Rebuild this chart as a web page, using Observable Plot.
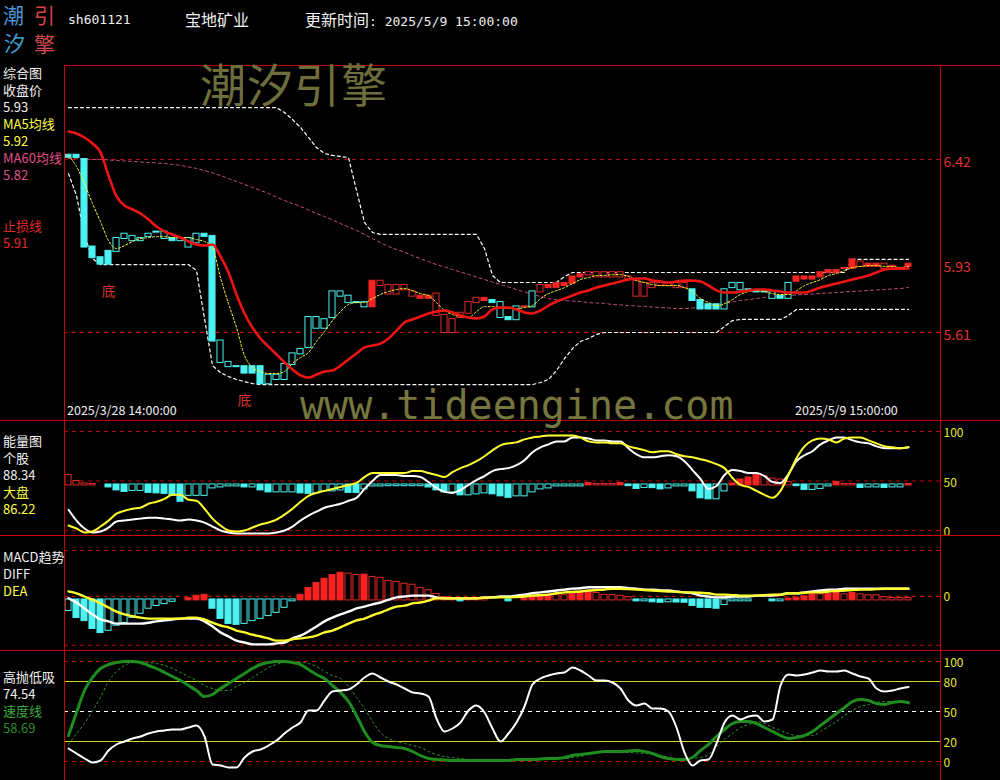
<!DOCTYPE html>
<html><head><meta charset="utf-8">
<script src="https://cdn.jsdelivr.net/npm/d3@7"></script>
<script src="https://cdn.jsdelivr.net/npm/@observablehq/plot@0.6"></script>
<style>
html,body{margin:0;background:#000;}
#root{position:relative;width:1000px;height:780px;background:#000;overflow:hidden;font-family:"Noto Sans CJK SC",sans-serif;}
.t{position:absolute;white-space:nowrap;}
.hl{position:absolute;height:1px;background:#c80000;}
.vl{position:absolute;width:1px;background:#c80000;}
</style></head><body><div id="root"></div>
<script>
// ---------- data ----------
const stockCode = "sh601121";
const stockName = "宝地矿业";
const updateTime = "2025/5/9 15:00:00";
const firstTime = "2025/3/28 14:00:00";
const lastTime = "2025/5/9 15:00:00";

const open = [6.44,6.44,6.42,6.01,5.96,5.99,5.99,6.05,6.04,6.04,
 6.06,6.08,6.05,6.05,6.04,6.01,6.03,6.07,6.06,5.47,
 5.45,5.45,5.45,5.45,5.45,5.37,5.39,5.39,5.46,5.51,
 5.54,5.63,5.63,5.68,5.78,5.75,5.75,5.73,5.73,5.85,
 5.83,5.83,5.83,5.80,5.77,5.77,5.79,5.69,5.67,5.70,
 5.75,5.77,5.76,5.76,5.68,5.68,5.67,5.73,5.73,5.83,
 5.82,5.82,5.83,5.84,5.87,5.89,5.89,5.89,5.89,5.89,
 5.87,5.85,5.84,5.84,5.84,5.84,5.84,5.84,5.81,5.76,
 5.74,5.74,5.72,5.82,5.81,5.81,5.80,5.80,5.77,5.78,
 5.77,5.85,5.86,5.86,5.87,5.89,5.89,5.91,5.91,5.94,
 5.92,5.92,5.93,5.92,5.91,5.92];
const close = [6.43,6.43,6.01,5.96,5.93,5.93,6.05,6.07,6.06,6.05,
 6.07,6.08,6.08,6.04,6.05,6.05,6.07,6.06,5.57,5.57,
 5.47,5.45,5.42,5.42,5.37,5.41,5.41,5.46,5.51,5.53,
 5.68,5.68,5.67,5.80,5.80,5.78,5.75,5.75,5.85,5.83,
 5.79,5.79,5.81,5.78,5.78,5.78,5.69,5.61,5.61,5.68,
 5.70,5.75,5.77,5.75,5.75,5.67,5.73,5.73,5.80,5.80,
 5.83,5.84,5.84,5.87,5.88,5.88,5.87,5.87,5.87,5.87,
 5.86,5.78,5.78,5.82,5.83,5.83,5.82,5.82,5.76,5.72,
 5.72,5.72,5.81,5.84,5.84,5.81,5.80,5.80,5.80,5.77,
 5.84,5.87,5.87,5.87,5.89,5.90,5.90,5.91,5.95,5.92,
 5.93,5.93,5.91,5.92,5.91,5.93];
// trend state: 1 = 多 (red), -1 = 空 (cyan)
const trend = [-1,-1,-1,-1,-1,-1,-1,-1,-1,-1,
 -1,-1,-1,-1,-1,-1,-1,-1,-1,-1,
 -1,-1,-1,-1,-1,-1,-1,-1,-1,-1,
 -1,-1,-1,-1,-1,-1,-1,-1,1,1,
 1,1,1,1,1,1,1,1,1,1,
 1,1,1,-1,-1,-1,-1,1,-1,1,
 1,1,1,1,1,1,1,1,1,1,
 1,1,1,1,1,1,1,1,-1,-1,
 -1,-1,-1,-1,-1,-1,-1,-1,-1,-1,
 -1,1,1,1,1,1,1,1,1,1,
 1,1,1,1,1,1];
const stopLine = [6.551,6.542,6.523,6.495,6.453,6.345,6.247,6.205,6.186,6.167,
 6.139,6.106,6.083,6.069,6.055,6.036,6.022,6.017,6.022,5.966,
 5.891,5.788,5.699,5.633,5.582,5.544,5.507,5.470,5.437,5.409,
 5.399,5.413,5.427,5.432,5.455,5.484,5.512,5.540,5.549,5.558,
 5.582,5.619,5.657,5.671,5.685,5.699,5.708,5.713,5.704,5.690,
 5.680,5.676,5.685,5.718,5.727,5.727,5.718,5.704,5.699,5.713,
 5.736,5.755,5.769,5.783,5.797,5.807,5.821,5.830,5.839,5.849,
 5.858,5.863,5.863,5.853,5.849,5.844,5.849,5.853,5.853,5.849,
 5.830,5.807,5.797,5.797,5.802,5.807,5.811,5.811,5.807,5.802,
 5.797,5.797,5.797,5.807,5.821,5.830,5.839,5.849,5.858,5.867,
 5.877,5.891,5.905,5.909,5.909,5.910];
const ma5 = [6.438,6.387,6.307,6.214,6.129,6.040,6.003,6.017,6.036,6.050,
 6.054,6.059,6.059,6.054,6.054,6.054,6.045,6.036,6.008,5.867,
 5.745,5.633,5.502,5.446,5.427,5.418,5.418,5.427,5.465,5.493,
 5.516,5.568,5.614,5.666,5.708,5.741,5.750,5.750,5.769,5.788,
 5.802,5.811,5.816,5.806,5.792,5.783,5.750,5.713,5.694,5.685,
 5.680,5.708,5.731,5.731,5.727,5.722,5.722,5.727,5.736,5.769,
 5.792,5.806,5.820,5.839,5.858,5.867,5.877,5.877,5.881,5.881,
 5.872,5.853,5.844,5.834,5.830,5.830,5.830,5.820,5.802,5.769,
 5.750,5.736,5.745,5.764,5.788,5.802,5.806,5.802,5.792,5.788,
 5.788,5.806,5.830,5.844,5.858,5.877,5.886,5.900,5.914,5.919,
 5.923,5.923,5.919,5.919,5.914,5.920];
const ma60 = [6.425,6.425,6.422,6.420,6.420,6.418,6.415,6.413,6.411,6.408,
 6.406,6.404,6.401,6.397,6.392,6.385,6.378,6.368,6.357,6.345,
 6.331,6.317,6.303,6.289,6.275,6.261,6.244,6.228,6.214,6.200,
 6.184,6.167,6.153,6.137,6.120,6.104,6.088,6.069,6.050,6.031,
 6.013,5.999,5.985,5.970,5.956,5.942,5.928,5.917,5.905,5.893,
 5.882,5.870,5.858,5.846,5.835,5.823,5.811,5.800,5.788,5.779,
 5.769,5.764,5.760,5.757,5.755,5.750,5.748,5.746,5.741,5.739,
 5.736,5.734,5.732,5.729,5.727,5.725,5.722,5.722,5.725,5.727,
 5.732,5.739,5.746,5.753,5.760,5.764,5.769,5.774,5.779,5.781,
 5.783,5.786,5.788,5.790,5.793,5.795,5.797,5.800,5.802,5.804,
 5.807,5.809,5.811,5.814,5.816,5.821];
const upperBand = [6.663,6.663,6.663,6.663,6.663,6.663,6.663,6.663,6.663,6.663,
 6.663,6.663,6.663,6.663,6.663,6.663,6.663,6.663,6.663,6.663,
 6.663,6.663,6.663,6.663,6.663,6.663,6.663,6.640,6.607,6.570,
 6.523,6.476,6.448,6.439,6.434,6.429,6.275,6.125,6.078,6.069,
 6.069,6.069,6.069,6.069,6.069,6.069,6.069,6.069,6.069,6.069,
 6.069,6.069,6.003,5.877,5.844,5.844,5.844,5.844,5.844,5.844,
 5.844,5.844,5.872,5.891,5.891,5.891,5.891,5.891,5.891,5.891,
 5.891,5.891,5.891,5.891,5.891,5.891,5.891,5.891,5.891,5.891,
 5.891,5.891,5.891,5.891,5.891,5.891,5.891,5.891,5.891,5.891,
 5.891,5.891,5.891,5.891,5.891,5.891,5.891,5.891,5.952,5.952,
 5.952,5.952,5.952,5.952,5.952,5.952];
const lowerBand = [6.354,6.251,6.064,5.956,5.928,5.928,5.928,5.928,5.928,5.928,
 5.928,5.928,5.928,5.928,5.928,5.928,5.900,5.676,5.455,5.422,
 5.404,5.390,5.380,5.371,5.366,5.366,5.366,5.366,5.366,5.366,
 5.366,5.366,5.366,5.366,5.366,5.366,5.366,5.366,5.366,5.366,
 5.366,5.366,5.366,5.366,5.366,5.366,5.366,5.366,5.366,5.366,
 5.366,5.366,5.366,5.366,5.366,5.366,5.366,5.366,5.366,5.376,
 5.390,5.432,5.488,5.535,5.568,5.582,5.601,5.610,5.610,5.610,
 5.610,5.610,5.610,5.610,5.610,5.610,5.610,5.610,5.610,5.610,
 5.610,5.610,5.638,5.666,5.671,5.671,5.671,5.671,5.671,5.671,
 5.690,5.718,5.718,5.718,5.718,5.718,5.718,5.718,5.718,5.718,
 5.718,5.718,5.718,5.718,5.718,5.718];
const priceTicks = [6.42, 5.93, 5.61];
const priceGrid = [6.42, 5.61];
const bottomSignals = [5, 22]; // 底

// 能量图
const energyStock = [21,10,2,-2,-1,3,9,10,11,12,
 13,13,12,11,10,11,10,8,4,0,
 -2,-3,-3,-3,-3,-3,-2,0,4,10,
 15,19,23,25,27,30,33,42,50,56,
 56,56,55,55,54,49,43,39,38,41,
 46,51,55,60,62,63,66,71,79,84,
 87,90,90,94,94,93,91,91,90,90,
 83,77,74,74,75,76,75,70,61,52,
 42,45,56,61,60,58,58,55,49,48,
 57,70,76,80,87,91,94,94,91,89,
 88,85,83,83,83,84];
const energyMarket = [5,2,-2,-1,4,10,17,20,22,23,
 27,29,32,36,36,31,30,22,12,5,
 0,-1,0,3,6,8,11,16,22,29,
 35,38,40,42,44,46,48,54,58,58,
 58,58,58,60,60,58,56,54,59,63,
 66,70,75,81,86,88,89,92,94,95,
 96,96,96,96,94,90,89,89,88,88,
 85,83,81,79,80,80,77,75,74,72,
 70,67,63,53,46,44,40,36,33,40,
 56,73,85,91,93,92,89,93,94,94,
 91,88,85,84,83,84];
const energyBase = 46;
const energyHist = [9.6,3.5,1,0.5,0,-2,-5,-6.5,-5.5,-5.5,
 -7.5,-8,-8.5,-10.5,-16.5,-10.5,-10.5,-10.5,-3,-2,
 -1,-1,-2,-2,-5,-7,-7,-7,-7,-8,
 -8.5,-8,-6,-6,-5,-7.5,-7.7,-4,-1,-1,
 -0.7,-0.7,-0.7,-0.7,-0.7,-2,-5,-7,-7,-10,
 -10,-9,-8,-9,-11,-12.5,-11,-11,-7,-4,
 -3,-1,-1,-1,-1,1.5,0.5,0.5,0.5,1.5,
 -0.7,-3.5,-2.5,-2.7,-4,-3,-1,-1,-6,-13,
 -14,-14,-6,1,5,7,9.5,8.5,6,5,
 2.5,-0.7,-4.5,-4.5,-3.5,-1,2.5,0.5,0.5,-2.5,
 -2,-2,-2.5,-2,-2,0.5];
const energyTicks = [100, 50, 0];
const energyStockLast = "88.34";
const energyMarketLast = "86.22";

// MACD
const diff = [-0.004,-0.013,-0.026,-0.039,-0.050,-0.054,-0.059,-0.059,-0.059,-0.059,
 -0.057,-0.054,-0.052,-0.050,-0.048,-0.048,-0.048,-0.054,-0.065,-0.078,
 -0.087,-0.096,-0.100,-0.104,-0.104,-0.104,-0.102,-0.100,-0.091,-0.085,
 -0.076,-0.065,-0.054,-0.046,-0.039,-0.033,-0.026,-0.022,-0.017,-0.013,
 -0.007,-0.002,0,0.002,0.002,0.002,-0.002,-0.004,-0.004,-0.004,
 -0.004,-0.004,-0.002,-0.002,0,0,0.002,0.004,0.007,0.009,
 0.011,0.013,0.015,0.017,0.018,0.020,0.020,0.020,0.020,0.020,
 0.018,0.017,0.015,0.015,0.013,0.013,0.011,0.009,0.007,0.002,
 0,-0.002,-0.002,0,0,0,0.002,0.002,0.002,0.004,
 0.007,0.007,0.009,0.011,0.013,0.015,0.015,0.017,0.017,0.017,
 0.017,0.017,0.017,0.017,0.017,0.017];
const dea = [0.011,0.007,0,-0.007,-0.015,-0.024,-0.033,-0.039,-0.043,-0.046,
 -0.048,-0.048,-0.048,-0.048,-0.048,-0.046,-0.046,-0.050,-0.057,-0.063,
 -0.067,-0.074,-0.078,-0.083,-0.087,-0.091,-0.096,-0.096,-0.093,-0.091,
 -0.089,-0.085,-0.078,-0.074,-0.067,-0.059,-0.052,-0.048,-0.041,-0.035,
 -0.028,-0.022,-0.020,-0.015,-0.013,-0.009,-0.004,-0.004,-0.004,-0.004,
 -0.004,-0.004,-0.003,-0.002,-0.002,-0.002,-0.001,0,0.002,0.003,
 0.004,0.007,0.009,0.010,0.011,0.013,0.014,0.015,0.017,0.017,
 0.016,0.015,0.014,0.013,0.012,0.011,0.010,0.009,0.009,0.008,
 0.007,0.004,0.004,0.003,0.002,0.002,0.002,0.003,0.004,0.004,
 0.007,0.007,0.008,0.009,0.009,0.011,0.012,0.013,0.014,0.015,
 0.015,0.016,0.017,0.017,0.017,0.017];
const macdBase = -0.0075;
const macdHist = [-0.023,-0.038,-0.045,-0.062,-0.071,-0.066,-0.055,-0.049,-0.038,-0.029,
 -0.018,-0.012,-0.008,-0.003,0,0.003,0.008,0.010,-0.018,-0.040,
 -0.051,-0.053,-0.051,-0.045,-0.040,-0.034,-0.027,-0.016,-0.002,0.010,
 0.025,0.036,0.045,0.053,0.058,0.056,0.053,0.054,0.049,0.047,
 0.040,0.038,0.034,0.032,0.025,0.020,0.012,0.005,0.003,-0.002,
 0.002,0.002,0.002,0,0,-0.002,0,0.002,0.005,0.008,
 0.010,0.0095,0.009,0.012,0.014,0.016,0.014,0.010,0.0095,0.008,
 0.005,-0.002,-0.002,-0.004,-0.005,-0.004,-0.0045,-0.005,-0.012,-0.016,
 -0.0165,-0.018,-0.010,-0.002,-0.002,-0.002,0,0,-0.002,-0.002,
 0.002,0.004,0.007,0.011,0.011,0.012,0.014,0.011,0.014,0.011,
 0.009,0.009,0.005,0.003,0.003,0.003];
const macdGrid = [0.1, 0, -0.106];
const macdTicks = [0];

// 高抛低吸
const swingLine = [13,8,3,-1,1,11,17,20,23,25,
 28,30,31,32,32,34,36,25,-3,-4,
 -6,-6,4,10,12,16,21,28,34,39,
 51,51,61,70,71,72,77,84,88,84,
 80,77,73,69,68,65,43,30,33,39,
 51,56,49,33,20,28,39,55,77,83,
 86,88,89,94,91,86,81,81,79,73,
 61,56,58,53,53,50,34,9,-4,1,
 2,18,39,46,42,45,46,40,42,76,
 87,86,87,89,91,90,90,91,88,85,
 83,73,70,71,73,74.54];
const speedLine = [26,49,71,84,93,97,99,100,100,99,
 96,93,89,85,81,76,71,65,67,73,
 78,83,88,93,97,99,100,100,99,97,
 92,87,83,76,69,60,46,30,19,16,
 15,14,13,10,6,3,2,1.5,1,1,
 1,1,1,1,1,1,2,2,2,2.5,
 3,3,4,6,7,8,9,10,10,10,
 10.5,11,10,8,5,3,2,2,4,11,
 17,25,32,38,40,40,38,34,30,26,
 23,24,26,30,36,42,48,54,60,62,
 61,58,57,59,60,58.69];
const speedSignal = [17,28,38,51,64,80,90,96,99,100,
 99,98,96,93,89,85,81,76,73,71,
 71,75,79,84,89,94,97,99,99,99,
 98,95,90,86,83,75,64,53,40,29,
 23,20,18,16,14,10,7,5,4,3,
 2,1,1,1,1,1,1,1,1,2,
 2,3,3,4,5,7,9,9,9,9,
 9,8.5,8,7,5,4,3,3,3,4,
 7,15,22,28,34,37,40,38,34,31,
 28,26,26,26,30,35,40,46,51,55,
 57,59,60,60,60,60];
const swingTicks = [100, 80, 50, 20, 0];

// ---------- rendering ----------
const root = document.getElementById("root");
const CYAN = "#4ef2f2", RED = "#ff2020", REDLINE = "#e02a2a", YEL = "#ffff30";
const idx = d3.range(open.length);
const X = {domain: [-0.5, 109], axis: null};

function mk(top, height, yDomain, marks, fontSize) {
  const svg = Plot.plot({
    width: 1000, height, marginLeft: 64, marginRight: 60, marginTop: 0, marginBottom: 0,
    x: X, y: {domain: yDomain, axis: null},
    style: {background: "transparent", color: "#fff", fontFamily: "'Noto Sans CJK SC', sans-serif", fontSize: (fontSize || 13) + "px", overflow: "visible"},
    marks
  });
  svg.style.position = "absolute"; svg.style.left = "0px"; svg.style.top = top + "px";
  root.appendChild(svg);
}
const ser = (arr) => arr.map((v, i) => ({i, v}));
const grow = (h, i) => i > 0 && (Math.sign(h[i]) !== Math.sign(h[i - 1]) || Math.abs(h[i]) > Math.abs(h[i - 1]));
function histMarks(h, base) {
  const data = h.map((v, i) => ({i, v, g: grow(h, i)})).filter(d => d.v !== 0);
  return Plot.rect(data, {
    x1: d => d.i - 0.38, x2: d => d.i + 0.38, y1: () => base, y2: d => base + d.v,
    fill: d => d.g ? (d.v > 0 ? RED : CYAN) : "#000",
    stroke: d => d.v > 0 ? REDLINE : CYAN, strokeWidth: 1, insetTop: -0.5, insetBottom: -0.5
  });
}
const gridDash = {stroke: "#c00000", strokeWidth: 1, strokeDasharray: "4,4"};
const intFmt = d => String(d);

// main panel
const candles = idx.map(i => ({i, o: open[i], c: close[i], t: trend[i],
  f: open[i] === close[i] || (trend[i] > 0 ? close[i] > open[i] : close[i] < open[i])}));
mk(65, 355, [5.198, 6.86], [
  Plot.ruleY(priceGrid, gridDash),
  Plot.line(ser(upperBand), {x: "i", y: "v", stroke: "#fff", strokeWidth: 1.2, strokeDasharray: "3,3"}),
  Plot.line(ser(lowerBand), {x: "i", y: "v", stroke: "#fff", strokeWidth: 1.2, strokeDasharray: "3,3"}),
  Plot.line(ser(ma60), {x: "i", y: "v", stroke: "#c8507e", strokeWidth: 1, strokeDasharray: "3,3", curve: "monotone-x"}),
  Plot.rect(candles, {x1: d => d.i - 0.38, x2: d => d.i + 0.38, y1: "o", y2: "c",
    fill: d => d.f ? (d.t > 0 ? RED : CYAN) : "#000", stroke: d => d.t > 0 ? REDLINE : CYAN,
    strokeWidth: 1, insetTop: -0.5, insetBottom: -0.5}),
  Plot.line(ser(ma5), {x: "i", y: "v", stroke: YEL, strokeWidth: 1, strokeDasharray: "2,2", curve: "monotone-x"}),
  Plot.line(ser(stopLine), {x: "i", y: "v", stroke: "#f01414", strokeWidth: 2.6, curve: "monotone-x"}),
  Plot.text(bottomSignals, {x: d => d, y: d => Math.min(open[d], close[d]), dy: 27, text: () => "底", fill: "#d83030", fontSize: 14}),
  Plot.axisY(priceTicks, {anchor: "right", tickSize: 0, tickPadding: 3, tickFormat: d3.format(".2f"), color: "#e03030", fontSize: 14, dy: 3, label: null})
], 14);

// energy panel
mk(420, 115, [-5.05, 111.1], [
  Plot.ruleY(energyTicks, gridDash),
  histMarks(energyHist, energyBase),
  Plot.line(ser(energyStock), {x: "i", y: "v", stroke: "#fff", strokeWidth: 2, curve: "monotone-x"}),
  Plot.line(ser(energyMarket), {x: "i", y: "v", stroke: YEL, strokeWidth: 2, curve: "monotone-x"}),
  Plot.axisY(energyTicks, {anchor: "right", tickSize: 0, tickPadding: 3, tickFormat: intFmt, color: "#e8e830", fontSize: 12, dy: 2, label: null})
], 12);

// MACD panel
mk(535, 115, [-0.1174, 0.1326], [
  Plot.ruleY(macdGrid, gridDash),
  histMarks(macdHist, macdBase),
  Plot.line(ser(diff), {x: "i", y: "v", stroke: "#fff", strokeWidth: 2.4, curve: "monotone-x"}),
  Plot.line(ser(dea), {x: "i", y: "v", stroke: YEL, strokeWidth: 2.4, curve: "monotone-x"}),
  Plot.axisY(macdTicks, {anchor: "right", tickSize: 0, tickPadding: 3, tickFormat: intFmt, color: "#e8e830", fontSize: 12, dy: 1, label: null})
], 12);

// 高抛低吸 panel
mk(650, 130, [-19, 111], [
  Plot.ruleY([100, 0], gridDash),
  Plot.ruleY([80, 20], {stroke: "#d8d820", strokeWidth: 1}),
  Plot.ruleY([50], {stroke: "#fff", strokeWidth: 1, strokeDasharray: "4,4"}),
  Plot.line(ser(speedSignal), {x: "i", y: "v", stroke: "#2e9a2e", strokeWidth: 1, strokeDasharray: "2,3", curve: "monotone-x"}),
  Plot.line(ser(speedLine), {x: "i", y: "v", stroke: "#1e8c1e", strokeWidth: 3, curve: "monotone-x"}),
  Plot.line(ser(swingLine), {x: "i", y: "v", stroke: "#fff", strokeWidth: 2, curve: "monotone-x"}),
  Plot.axisY(swingTicks, {anchor: "right", tickSize: 0, tickPadding: 3, tickFormat: intFmt, color: "#e8e830", fontSize: 12, dy: 1.5, label: null})
], 12);

// frame lines
function hl(x, y, w) { const d = document.createElement("div"); d.className = "hl"; d.style.left = x + "px"; d.style.top = y + "px"; d.style.width = w + "px"; root.appendChild(d); }
function vl(x, y, h) { const d = document.createElement("div"); d.className = "vl"; d.style.left = x + "px"; d.style.top = y + "px"; d.style.height = h + "px"; root.appendChild(d); }
hl(64, 65, 936); hl(0, 420, 1000); hl(0, 535, 1000); hl(0, 650, 1000);
vl(64, 65, 715); vl(940, 65, 715);

// texts (line box = font size, centred on yc)
function txt(x, yc, s, color, size, extra) {
  const d = document.createElement("div");
  d.className = "t"; d.textContent = s;
  d.style.left = x + "px"; d.style.top = (yc - 0.56 * size) + "px";
  d.style.lineHeight = size + "px"; d.style.height = size + "px"; d.style.fontSize = size + "px"; d.style.color = color;
  if (extra) Object.assign(d.style, extra);
  root.appendChild(d);
  return d;
}
// logo
txt(3, 16, "潮", "#4a94d4", 21); txt(34, 16, "引", "#d84444", 21);
txt(4, 44, "汐", "#3fa0d8", 21); txt(34, 45, "擎", "#d04a52", 21);
// header
txt(68, 20, stockCode, "#f0f0f0", 13, {fontFamily: "'DejaVu Sans Mono', monospace"});
txt(185, 20, stockName, "#f0f0f0", 16);
const up = txt(305, 20, "", "#f0f0f0", 16);
up.innerHTML = '<span>更新时间</span><span style="font-family:\'DejaVu Sans Mono\',monospace;font-size:13px">: ' + updateTime + '</span>';
// watermarks
txt(200, 85, "潮汐引擎", "#6e6e3c", 46, {letterSpacing: "1px"});
txt(300, 407, "www.tideengine.com", "#76763e", 40, {fontFamily: "'DejaVu Sans Mono', monospace"});
// dates
txt(67, 411, firstTime, "#f0f0f0", 12.5);
txt(795, 411, lastTime, "#f0f0f0", 12.5);
// left labels
const L = [
  [73, "综合图", "#f0f0f0"], [90.5, "收盘价", "#f0f0f0"], [107.5, close[close.length - 1].toFixed(2), "#f0f0f0"],
  [124.5, "MA5均线", "#ffff40"], [141.5, ma5[ma5.length - 1].toFixed(2), "#ffff40"],
  [158.5, "MA60均线", "#e0508a"], [175.5, ma60[ma60.length - 1].toFixed(2), "#e0508a"],
  [226, "止损线", "#e02a2a"], [243, stopLine[stopLine.length - 1].toFixed(2), "#e02a2a"],
  [441, "能量图", "#f0f0f0"], [458, "个股", "#f0f0f0"], [475, energyStockLast, "#f0f0f0"],
  [492, "大盘", "#ffff40"], [509, energyMarketLast, "#ffff40"],
  [557, "MACD趋势", "#f0f0f0"], [574, "DIFF", "#f0f0f0"], [591, "DEA", "#ffff40"],
  [677, "高抛低吸", "#f0f0f0"], [694, swingLine[swingLine.length - 1].toFixed(2), "#f0f0f0"],
  [711, "速度线", "#3aa83a"], [728, speedLine[speedLine.length - 1].toFixed(2), "#2a8a2a"]
];
L.forEach(([y, s, c]) => txt(3, y, s, c, 13));
</script></body></html>
